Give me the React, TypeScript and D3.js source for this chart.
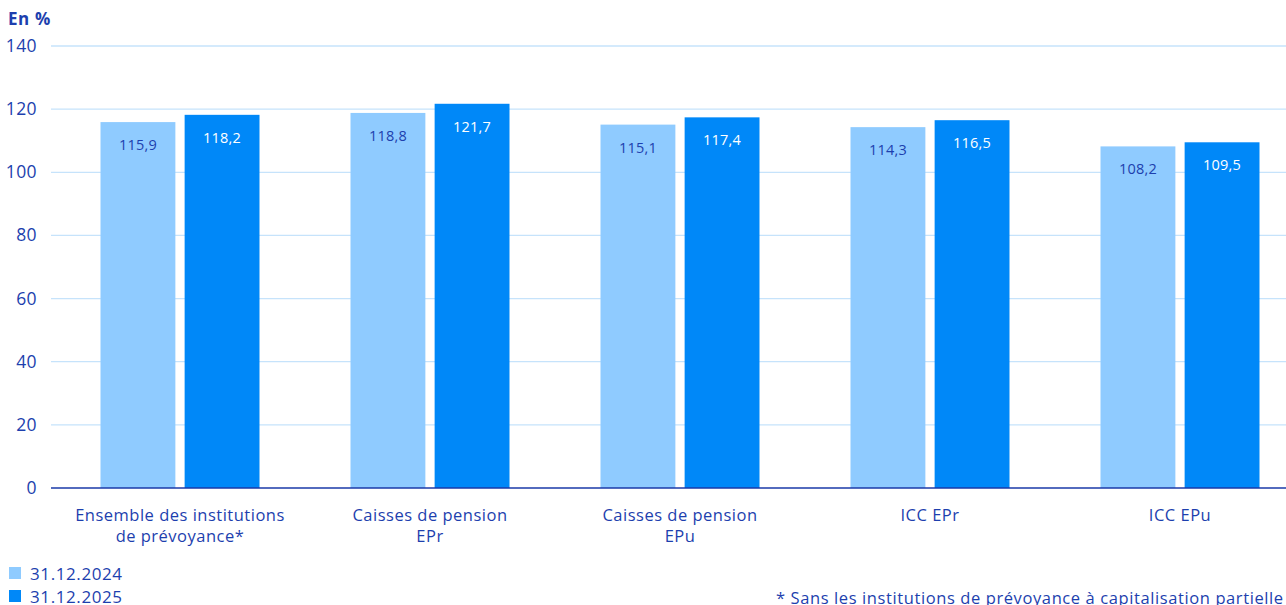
import React from "react";
import * as d3 from "d3";

const categories: string[][] = [
  ["Ensemble des institutions", "de prévoyance*"],
  ["Caisses de pension", "EPr"],
  ["Caisses de pension", "EPu"],
  ["ICC EPr"],
  ["ICC EPu"],
];
const series2024 = [115.9, 118.8, 115.1, 114.3, 108.2];
const series2025 = [118.2, 121.7, 117.4, 116.5, 109.5];
const seriesNames = ["31.12.2024", "31.12.2025"];
const yTicks = [0, 20, 40, 60, 80, 100, 120, 140];

const W = 1286;
const H = 605;
const TEXT = "#1d3fae";
const LIGHT = "#8fcbff";
const DARK = "#0088f8";
const GRID = "#c6e3fb";
const FONT = "'Open Sans', 'Noto Sans', sans-serif";

export default function App() {
  const y = d3.scaleLinear().domain([0, 140]).range([488, 46]);
  const x0 = d3.scaleBand<number>().domain(d3.range(categories.length)).range([55, 1305]);
  const x1 = d3.scaleBand<number>().domain([0, 1]).range([0, 159]).paddingInner(0.11);
  const fmt = (v: number) => v.toFixed(1).replace(".", ",");
  const seriesData = [series2024, series2025];
  const colors = [LIGHT, DARK];
  const labelColors = [TEXT, "#ffffff"];

  return (
    <svg width={W} height={H} style={{ position: "absolute", left: 0, top: 0, fontFamily: FONT }}>
      <text x={8} y={25} fill={TEXT} fontSize={17} fontWeight="bold" letterSpacing={0.6}>En %</text>
      {yTicks.map((t) => (
        <g key={t}>
          {t !== 0 && <line x1={51} x2={W} y1={y(t)} y2={y(t)} stroke={GRID} strokeWidth={1.3} />}
          <text x={37} y={y(t) + 6} fill={TEXT} fontSize={17.5} textAnchor="end" letterSpacing={0.4}>{t}</text>
        </g>
      ))}
      {categories.map((c, i) => {
        const bx = x0(i)! + (x0.bandwidth() - 159) / 2;
        return (
          <g key={i}>
            {seriesData.map((s, k) => {
              const v = s[i];
              const xx = bx + x1(k)!;
              return (
                <g key={k}>
                  <rect x={xx} y={y(v)} width={x1.bandwidth()} height={y(0) - y(v)} fill={colors[k]} />
                  <text x={xx + x1.bandwidth() / 2} y={y(v) + 28} fill={labelColors[k]} fontSize={14.5} textAnchor="middle" letterSpacing={0.2}>{fmt(v)}</text>
                </g>
              );
            })}
            {c.map((line, j) => (
              <text key={j} x={x0(i)! + x0.bandwidth() / 2} y={521 + j * 21} fill={TEXT} fontSize={16.5} letterSpacing={0.5} textAnchor="middle">{line}</text>
            ))}
          </g>
        );
      })}
      <line x1={51} x2={W} y1={y(0)} y2={y(0)} stroke="#1a3aa8" strokeWidth={1.5} />
      {seriesNames.map((n, k) => (
        <g key={n}>
          <rect x={9} y={567 + k * 23} width={12} height={12} fill={colors[k]} />
          <text x={30} y={580 + k * 23} fill={TEXT} fontSize={17} letterSpacing={0.6}>{n}</text>
        </g>
      ))}
      <text x={776} y={604} fill={TEXT} fontSize={16.5} letterSpacing={0.6}>* Sans les institutions de prévoyance à capitalisation partielle</text>
    </svg>
  );
}
